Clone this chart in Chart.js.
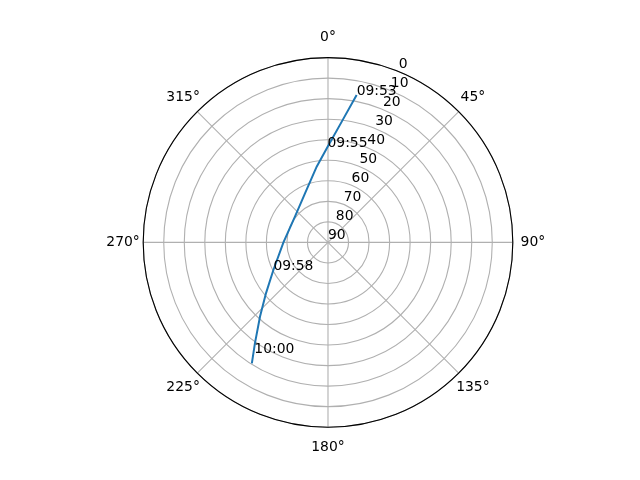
<!DOCTYPE html>
<html>
<head>
<meta charset="utf-8">
<script src="https://cdn.jsdelivr.net/npm/chart.js@4/dist/chart.umd.min.js"></script>
<style>
  html, body { margin: 0; padding: 0; background: #fff; }
  canvas { display: block; }
</style>
</head>
<body>
<canvas id="chart" width="640" height="480"></canvas>
<script>
// sky track of the pass: azimuth (deg, clockwise from north) and elevation (deg)
const trackAz = [11.0, 6.5, 359.7, 351.5, 334.9, 307.9, 270.0, 243.2, 230.6, 222.5, 215.9, 212.2];
const trackEl = [16.9, 30.8, 43.5, 52.7, 63.6, 69.6, 68.3, 60.2, 50.9, 41.0, 29.3, 20.4];

// time stamps written beside the track
const timeLabels = ["09:53", "09:55", "09:58", "10:00"];
const timeAz = [11.0, 359.7, 243.2, 213.6];
const timeEl = [16.9, 43.5, 60.2, 25.2];

// axis ticks
const azTicks = [0, 45, 90, 135, 180, 225, 270, 315];
const elTicks = [0, 10, 20, 30, 40, 50, 60, 70, 80, 90];

const FONT = "13.9px 'DejaVu Sans', sans-serif";

function toXY(az, el) {
  const r = 90 - el;
  const a = az * Math.PI / 180;
  return { x: r * Math.sin(a), y: r * Math.cos(a) };
}

const trackData = trackAz.map((az, i) => toXY(az, trackEl[i]));

function px(chart, az, dist) {
  const a = az * Math.PI / 180;
  return {
    x: chart.scales.x.getPixelForValue(dist * Math.sin(a)),
    y: chart.scales.y.getPixelForValue(dist * Math.cos(a))
  };
}

const polarGrid = {
  id: "polarGrid",
  beforeDatasetsDraw(chart) {
    const ctx = chart.ctx;
    const c = px(chart, 0, 0);
    const xs = chart.scales.x;
    ctx.save();
    ctx.strokeStyle = "#b0b0b0";
    ctx.lineWidth = 1.1;
    elTicks.forEach(el => {
      const rad = xs.getPixelForValue(90 - el) - c.x;
      if (rad <= 0) return;
      ctx.beginPath();
      ctx.arc(c.x, c.y, rad, 0, Math.PI * 2);
      ctx.stroke();
    });
    azTicks.forEach(az => {
      const p = px(chart, az, 90);
      ctx.beginPath();
      ctx.moveTo(c.x, c.y);
      ctx.lineTo(p.x, p.y);
      ctx.stroke();
    });
    ctx.restore();
  },
  afterDatasetsDraw(chart) {
    const ctx = chart.ctx;
    const c = px(chart, 0, 0);
    const rad = chart.scales.x.getPixelForValue(90) - c.x;
    ctx.save();
    // outer spine
    ctx.strokeStyle = "#000";
    ctx.lineWidth = 1.1;
    ctx.beginPath();
    ctx.arc(c.x, c.y, rad, 0, Math.PI * 2);
    ctx.stroke();

    ctx.fillStyle = "#000";
    ctx.font = FONT;
    // azimuth labels
    ctx.textAlign = "center";
    ctx.textBaseline = "middle";
    azTicks.forEach(az => {
      const p = px(chart, az, 99.8);
      ctx.fillText(az + "°", p.x, p.y);
    });
    // elevation labels along 22.5 deg
    ctx.textAlign = "left";
    ctx.textBaseline = "bottom";
    elTicks.forEach(el => {
      const p = px(chart, 22.5, 90 - el);
      ctx.fillText(String(el), p.x, p.y);
    });
    // time stamps
    ctx.textBaseline = "alphabetic";
    timeLabels.forEach((t, i) => {
      const p = px(chart, timeAz[i], 90 - timeEl[i]);
      ctx.fillText(t, p.x, p.y);
    });
    ctx.restore();
  }
};

new Chart(document.getElementById("chart"), {
  type: "scatter",
  data: {
    datasets: [{
      data: trackData,
      showLine: true,
      borderColor: "#1f77b4",
      borderWidth: 2,
      pointRadius: 0,
      tension: 0
    }]
  },
  options: {
    responsive: false,
    animation: false,
    devicePixelRatio: 1,
    layout: { padding: { left: 143.2, right: 127.2, top: 57.6, bottom: 52.8 } },
    scales: {
      x: { type: "linear", min: -90, max: 90, display: false },
      y: { type: "linear", min: -90, max: 90, display: false }
    },
    plugins: {
      legend: { display: false },
      tooltip: { enabled: false }
    }
  },
  plugins: [polarGrid]
});
</script>
</body>
</html>
